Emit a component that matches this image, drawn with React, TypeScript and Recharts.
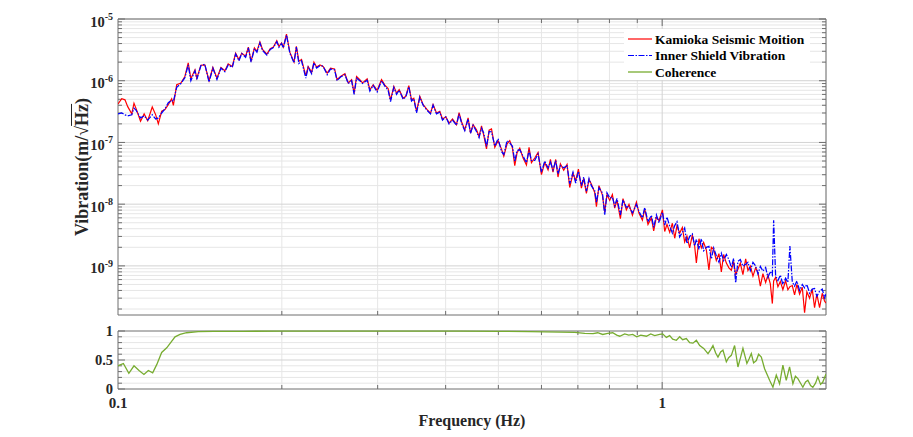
import React from 'react';
import {
  CartesianGrid,
  Line,
  LineChart,
  ReferenceArea,
  ReferenceLine,
  XAxis,
  YAxis,
} from 'recharts';

// ---- spectrum (top panel) ----
const freqHz = [
  0.1000, 0.1016, 0.1030, 0.1042, 0.1060, 0.1070, 0.1080, 0.1100, 0.1117, 0.1134,
  0.1156, 0.1173, 0.1186, 0.1203, 0.1220, 0.1237, 0.1255, 0.1264, 0.1282, 0.1305,
  0.1327, 0.1346, 0.1361, 0.1385, 0.1396, 0.1420, 0.1444, 0.1470, 0.1494, 0.1520,
  0.1546, 0.1572, 0.1594, 0.1622, 0.1645, 0.1668, 0.1688, 0.1716, 0.1736, 0.1756,
  0.1781, 0.1800, 0.1823, 0.1843, 0.1878, 0.1904, 0.1930, 0.1958, 0.1976, 0.1998,
  0.2013, 0.2040, 0.2069, 0.2106, 0.2127, 0.2150, 0.2174, 0.2214, 0.2236, 0.2269,
  0.2291, 0.2317, 0.2350, 0.2382, 0.2423, 0.2458, 0.2500, 0.2527, 0.2564, 0.2612,
  0.2649, 0.2687, 0.2716, 0.2744, 0.2782, 0.2814, 0.2870, 0.2903, 0.2944, 0.2994,
  0.3050, 0.3093, 0.3136, 0.3168, 0.3213, 0.3250, 0.3286, 0.3342, 0.3380, 0.3423,
  0.3462, 0.3496, 0.3537, 0.3586, 0.3637, 0.3699, 0.3752, 0.3793, 0.3848, 0.3902,
  0.3947, 0.4003, 0.4058, 0.4118, 0.4188, 0.4234, 0.4283, 0.4338, 0.4399, 0.4444,
  0.4493, 0.4558, 0.4608, 0.4656, 0.4701, 0.4755, 0.4808, 0.4857, 0.4925, 0.4994,
  0.5067, 0.5116, 0.5188, 0.5247, 0.5307, 0.5359, 0.5411, 0.5474, 0.5551, 0.5631,
  0.5693, 0.5751, 0.5832, 0.5914, 0.6000, 0.6084, 0.6170, 0.6232, 0.6300, 0.6373,
  0.6435, 0.6501, 0.6592, 0.6686, 0.6762, 0.6857, 0.6935, 0.7016, 0.7105, 0.7174,
  0.7257, 0.7338, 0.7413, 0.7516, 0.7571, 0.7653, 0.7765, 0.7841, 0.7917, 0.8009,
  0.8100, 0.8180, 0.8260, 0.8379, 0.8472, 0.8594, 0.8690, 0.8817, 0.8967, 0.9067,
  0.9197, 0.9288, 0.9417, 0.9554, 0.9647, 0.9759, 0.9866, 1.0010, 1.0107, 1.0205,
  1.0323, 1.0441, 1.0544, 1.0647, 1.0767, 1.0891, 1.0997, 1.1104, 1.1233, 1.1360,
  1.1473, 1.1556, 1.1684, 1.1803, 1.1918, 1.2056, 1.2187, 1.2313, 1.2433, 1.2574,
  1.2714, 1.2844, 1.2969, 1.3119, 1.3264, 1.3399, 1.3529, 1.3646, 1.3778, 1.3918,
  1.4073, 1.4236, 1.4374, 1.4521, 1.4683, 1.4850, 1.4997, 1.5150, 1.5315, 1.5492,
  1.5643, 1.5802, 1.5938, 1.6026, 1.6160, 1.6319, 1.6485, 1.6664, 1.6857, 1.7021,
  1.7166, 1.7341, 1.7510, 1.7684, 1.7884, 1.8091, 1.8267, 1.8445, 1.8658, 1.8870,
  1.9055, 1.9240, 1.9463, 1.9684, 1.9876, 2.0000,
];

const kamiokaSeismic = [
  4.2e-7, 5.1e-7, 4.9e-7, 3.8e-7, 2.9e-7, 4.3e-7, 3.5e-7, 2.2e-7, 2.9e-7, 2.25e-7,
  3.75e-7, 2.8e-7, 2.0e-7, 3.2e-7, 3.4e-7, 4.1e-7, 5.1e-7, 4.0e-7, 8.6e-7, 9.2e-7,
  1.17e-6, 1.94e-6, 1.08e-6, 1.5e-6, 1.1e-6, 1.78e-6, 1.8e-6, 1.0e-6, 1.64e-6, 1.1e-6,
  1.64e-6, 1.45e-6, 1.87e-6, 1.7e-6, 2.8e-6, 2.2e-6, 2.8e-6, 2.5e-6, 3.5e-6, 2.06e-6,
  3.4e-6, 3.0e-6, 4.25e-6, 3.2e-6, 2.7e-6, 3.3e-6, 3.5e-6, 4.45e-6, 3.6e-6, 4.1e-6,
  3.5e-6, 5.7e-6, 2.9e-6, 2.0e-6, 3.6e-6, 2.06e-6, 2.2e-6, 1.2e-6, 1.7e-6, 1.37e-6,
  2.0e-6, 1.67e-6, 1.8e-6, 1.7e-6, 1.33e-6, 1.6e-6, 1.55e-6, 1.04e-6, 1.17e-6, 1.3e-6,
  9.2e-7, 1.04e-6, 6.3e-7, 1.17e-6, 1.04e-6, 9.2e-7, 1.07e-6, 7.15e-7, 8.6e-7, 7.0e-7,
  1.04e-6, 8.5e-7, 7.5e-7, 4.9e-7, 8.1e-7, 6.3e-7, 7.15e-7, 5.2e-7, 5.6e-7, 8.3e-7,
  4.9e-7, 5.2e-7, 3.2e-7, 5.6e-7, 4.1e-7, 3.4e-7, 2.97e-7, 4.1e-7, 3.0e-7, 3.2e-7,
  2.4e-7, 2.6e-7, 2.06e-7, 2.4e-7, 1.94e-7, 3.05e-7, 2.1e-7, 1.6e-7, 2.5e-7, 1.42e-7,
  1.94e-7, 1.6e-7, 1.25e-7, 1.86e-7, 1.29e-7, 7.85e-8, 1.58e-7, 1.66e-7, 8.3e-8, 1.07e-7,
  7.8e-8, 6.0e-8, 9.5e-8, 1.07e-7, 8.1e-8, 4.2e-8, 6.8e-8, 8.1e-8, 5.6e-8, 4.3e-8,
  8.3e-8, 4.7e-8, 5.6e-8, 6.9e-8, 3.0e-8, 4.7e-8, 3.6e-8, 5.3e-8, 3.3e-8, 5.3e-8,
  2.75e-8, 4.5e-8, 3.55e-8, 4.4e-8, 1.86e-8, 3.16e-8, 2.4e-8, 3.7e-8, 1.82e-8, 2.6e-8,
  1.5e-8, 2.5e-8, 2.1e-8, 1.55e-8, 9.1e-9, 2.0e-8, 1.4e-8, 7.5e-9, 1.43e-8, 1.15e-8,
  1.43e-8, 8.6e-9, 1.16e-8, 5.8e-9, 1.23e-8, 8.1e-9, 9.9e-9, 6.6e-9, 1.08e-8, 7.1e-9,
  5.5e-9, 8.4e-9, 4.7e-9, 6.0e-9, 3.7e-9, 6.2e-9, 5.4e-9, 8.1e-9, 3.6e-9, 4.7e-9,
  3.5e-9, 4.9e-9, 2.8e-9, 4.5e-9, 3.4e-9, 4.2e-9, 2.45e-9, 3.05e-9, 1.95e-9, 3.16e-9,
  2.1e-9, 1.12e-9, 2.75e-9, 1.95e-9, 2.4e-9, 1.8e-9, 8.6e-10, 2.0e-9, 1.86e-9, 1.22e-9,
  1.58e-9, 8.0e-10, 1.53e-9, 1.11e-9, 9.3e-10, 8.5e-10, 1.17e-9, 7.2e-10, 8.8e-10, 1.11e-9,
  7.2e-10, 1.3e-9, 8.4e-10, 9.9e-10, 6.8e-10, 9.3e-10, 7.8e-10, 4.7e-10, 7.5e-10, 5.4e-10,
  7.1e-10, 5.1e-10, 2.45e-10, 5.7e-10, 6.5e-10, 4.6e-10, 5.6e-10, 4.1e-10, 5.75e-10, 4.1e-10,
  4.6e-10, 4.8e-10, 3.4e-10, 5.0e-10, 3.5e-10, 4.5e-10, 1.74e-10, 3.8e-10, 3.0e-10, 4.2e-10,
  2.1e-10, 3.5e-10, 2.1e-10, 3.6e-10, 2.7e-10, 2.5e-10,
];

const innerShield = [
  2.9e-7, 3.0e-7, 2.8e-7, 2.7e-7, 2.8e-7, 3.6e-7, 3.3e-7, 2.5e-7, 2.7e-7, 2.3e-7,
  2.8e-7, 2.4e-7, 2.5e-7, 3.0e-7, 3.5e-7, 4.4e-7, 4.8e-7, 4.6e-7, 7.8e-7, 9.0e-7,
  1.12e-6, 1.8e-6, 1.0e-6, 1.45e-6, 1.05e-6, 1.75e-6, 1.85e-6, 9.5e-7, 1.6e-6, 1.05e-6,
  1.6e-6, 1.4e-6, 1.8e-6, 1.65e-6, 2.7e-6, 2.1e-6, 2.75e-6, 2.4e-6, 3.4e-6, 2.0e-6,
  3.3e-6, 2.9e-6, 4.1e-6, 3.1e-6, 2.6e-6, 3.2e-6, 3.45e-6, 4.3e-6, 3.5e-6, 4.0e-6,
  3.4e-6, 5.5e-6, 2.8e-6, 1.95e-6, 3.5e-6, 1.9e-6, 2.1e-6, 1.1e-6, 1.65e-6, 1.3e-6,
  1.95e-6, 1.6e-6, 1.75e-6, 1.72e-6, 1.25e-6, 1.55e-6, 1.5e-6, 1.0e-6, 1.15e-6, 1.25e-6,
  9.0e-7, 1.0e-6, 6.0e-7, 1.1e-6, 1.0e-6, 9.0e-7, 1.02e-6, 6.8e-7, 8.4e-7, 6.6e-7,
  1.0e-6, 8.2e-7, 7.0e-7, 4.6e-7, 7.8e-7, 6.0e-7, 7.0e-7, 5.0e-7, 5.5e-7, 8.0e-7,
  4.7e-7, 5.1e-7, 3.0e-7, 5.4e-7, 4.0e-7, 3.3e-7, 2.9e-7, 4.0e-7, 2.9e-7, 3.1e-7,
  2.3e-7, 2.6e-7, 2.0e-7, 2.3e-7, 1.9e-7, 2.9e-7, 2.0e-7, 1.55e-7, 2.4e-7, 1.4e-7,
  1.9e-7, 1.5e-7, 1.2e-7, 1.7e-7, 1.41e-7, 8.6e-8, 1.51e-7, 1.48e-7, 8.7e-8, 1.15e-7,
  7.1e-8, 6.4e-8, 1.07e-7, 9.8e-8, 8.7e-8, 4.9e-8, 7.4e-8, 7.6e-8, 6.0e-8, 4.7e-8,
  7.4e-8, 5.1e-8, 5.1e-8, 6.5e-8, 3.3e-8, 5.0e-8, 3.85e-8, 4.8e-8, 3.6e-8, 5.1e-8,
  3.1e-8, 4.2e-8, 3.9e-8, 4.2e-8, 2.14e-8, 3.3e-8, 2.2e-8, 3.4e-8, 2.0e-8, 2.75e-8,
  1.62e-8, 2.6e-8, 1.97e-8, 1.66e-8, 1.07e-8, 1.84e-8, 1.53e-8, 6.7e-9, 1.53e-8, 1.26e-8,
  1.3e-8, 9.4e-9, 1.24e-8, 6.7e-9, 1.17e-8, 8.9e-9, 9.2e-9, 7.2e-9, 9.9e-9, 7.6e-9,
  6.0e-9, 8.8e-9, 5.2e-9, 6.6e-9, 4.2e-9, 6.7e-9, 5.0e-9, 7.4e-9, 4.6e-9, 6.2e-9,
  4.4e-9, 3.4e-9, 4.5e-9, 5.2e-9, 2.95e-9, 3.5e-9, 4.1e-9, 2.3e-9, 3.0e-9, 3.3e-9,
  2.1e-9, 2.7e-9, 1.86e-9, 2.75e-9, 1.76e-9, 2.0e-9, 2.07e-9, 1.29e-9, 1.95e-9, 1.46e-9,
  1.15e-9, 1.6e-9, 1.22e-9, 1.53e-9, 1.26e-9, 9.5e-10, 1.32e-9, 5.3e-10, 1.19e-9, 1.27e-9,
  9.9e-10, 1.06e-9, 1.14e-9, 8.4e-10, 1.14e-9, 1.0e-9, 7.4e-10, 9.8e-10, 8.2e-10, 9.4e-10,
  6.5e-10, 8.1e-10, 7.1e-10, 5.5e-9, 6.9e-10, 5.8e-10, 7.1e-10, 5.0e-10, 6.3e-10, 5.4e-10,
  2.1e-9, 5.5e-10, 4.7e-10, 5.7e-10, 4.0e-10, 5.0e-10, 4.4e-10, 5.0e-10, 3.6e-10, 4.2e-10,
  4.3e-10, 3.2e-10, 3.9e-10, 4.2e-10, 3.05e-10, 3.5e-10,
];

// ---- coherence (bottom panel) ----
const cohFreqHz = [
  0.1000, 0.1023, 0.1047, 0.1070, 0.1093, 0.1116, 0.1137, 0.1158, 0.1178, 0.1203,
  0.1229, 0.1273, 0.1300, 0.1337, 0.1404, 0.1500, 0.1700, 0.2000, 0.2500, 0.3000,
  0.3500, 0.4248, 0.5030, 0.5710, 0.6084, 0.6501, 0.6908, 0.7206, 0.7464, 0.7612,
  0.7775, 0.7942, 0.8112, 0.8250, 0.8355, 0.8533, 0.8680, 0.8828, 0.8979, 0.9133,
  0.9354, 0.9526, 0.9688, 0.9895, 1.0021, 1.0178, 1.0322, 1.0454, 1.0619, 1.0768,
  1.0904, 1.1076, 1.1233, 1.1390, 1.1556, 1.1720, 1.1920, 1.2139, 1.2278, 1.2397,
  1.2540, 1.2662, 1.2806, 1.2932, 1.3119, 1.3246, 1.3399, 1.3586, 1.3778, 1.3937,
  1.4073, 1.4311, 1.4447, 1.4581, 1.4723, 1.4893, 1.5038, 1.5212, 1.5424, 1.5588,
  1.5754, 1.5977, 1.6206, 1.6435, 1.6665, 1.6904, 1.7143, 1.7386, 1.7571, 1.7758,
  1.7959, 1.8134, 1.8344, 1.8522, 1.8736, 1.8918, 1.9133, 1.9321, 1.9543, 1.9733,
  2.0000,
];

const coherence = [
  0.40, 0.44, 0.27, 0.40, 0.32, 0.25, 0.32, 0.28, 0.42, 0.63,
  0.71, 0.90, 0.94, 0.97, 0.99, 0.993, 0.995, 0.997, 0.998, 0.998,
  0.997, 0.998, 0.995, 0.99, 0.985, 0.98, 0.975, 0.96, 0.955, 0.97,
  0.94, 0.96, 0.97, 0.93, 0.91, 0.95, 0.93, 0.94, 0.90, 0.93,
  0.91, 0.95, 0.92, 0.94, 0.95, 0.89, 0.92, 0.86, 0.84, 0.90,
  0.85, 0.87, 0.80, 0.79, 0.84, 0.75, 0.70, 0.61, 0.68, 0.75,
  0.62, 0.55, 0.64, 0.67, 0.47, 0.54, 0.58, 0.75, 0.38, 0.55,
  0.70, 0.44, 0.52, 0.61, 0.45, 0.49, 0.60, 0.55, 0.35, 0.25,
  0.15, 0.03, 0.24, 0.09, 0.41, 0.15, 0.38, 0.09, 0.22, 0.18,
  0.10, 0.03, 0.12, 0.15, 0.06, 0.03, 0.10, 0.21, 0.08, 0.12,
  0.26,
];

// ---- axes ----
const freqTicks = [0.1, 1];
const freqMinor = [0.2, 0.3, 0.4, 0.5, 0.6, 0.7, 0.8, 0.9, 2];
const vibTicks = [1e-9, 1e-8, 1e-7, 1e-6, 1e-5];
const vibMinor = [-10, -9, -8, -7, -6].flatMap((e) =>
  [2, 3, 4, 5, 6, 7, 8, 9].map((m) => m * Math.pow(10, e)),
);
const cohTicks = [0, 0.5, 1];
const cohMinor = [0.1, 0.2, 0.3, 0.4, 0.6, 0.7, 0.8, 0.9];

const F_MIN = 0.1;
const F_MAX = 2;
const V_MIN = 1.6e-10;
const V_MAX = 1e-5;

const FONT = "'Liberation Serif', 'Times New Roman', serif";
const INK = '#262626';
const BOX = '#6e6e6e';
const GRID_MINOR = '#e6e6e6';
const GRID_MAJOR = '#d3d3d3';
const BLUE_DASH = '6 1.5 1.5 1.5';

const spectrum = freqHz.map((f, i) => ({ f, kamioka: kamiokaSeismic[i], shield: innerShield[i] }));
const coh = cohFreqHz.map((f, i) => ({ f, c: coherence[i] }));

// tick length helpers (pixels -> axis units)
const kx = (px: number) => Math.pow(10, px / 544.5);
const kyLog = (px: number) => Math.pow(10, px / 61.67);

function PowTick(props: any) {
  const { x, y, payload } = props;
  const exp = Math.round(Math.log10(payload.value));
  return (
    <text x={x - 5} y={y + 7.5} textAnchor="end" fontFamily={FONT} fontWeight="bold" fontSize={14.5} fill={INK}>
      10
      <tspan dy={-6.5} fontSize={10}>
        {exp}
      </tspan>
    </text>
  );
}

function CohTick(props: any) {
  const { x, y, payload } = props;
  return (
    <text x={x - 5} y={y + 5} textAnchor="end" fontFamily={FONT} fontWeight="bold" fontSize={14.5} fill={INK}>
      {payload.value}
    </text>
  );
}

function FreqTick(props: any) {
  const { x, y, payload } = props;
  return (
    <text x={x} y={y + 19} textAnchor="middle" fontFamily={FONT} fontWeight="bold" fontSize={15} fill={INK}>
      {payload.value}
    </text>
  );
}

function topTicks() {
  const out: React.ReactNode[] = [];
  const yMarks = [...vibTicks.map((v) => [v, 7]), ...vibMinor.map((v) => [v, 4])];
  yMarks.forEach(([v, len], i) => {
    out.push(
      <ReferenceLine key={'tl' + i} segment={[{ x: F_MIN, y: v }, { x: F_MIN * kx(len), y: v }]} stroke={BOX} />,
      <ReferenceLine key={'tr' + i} segment={[{ x: F_MAX / kx(len), y: v }, { x: F_MAX, y: v }]} stroke={BOX} />,
    );
  });
  const xMarks = [[1, 7], ...freqMinor.slice(0, -1).map((f) => [f, 4])];
  xMarks.forEach(([f, len], i) => {
    out.push(
      <ReferenceLine key={'tb' + i} segment={[{ x: f, y: V_MIN }, { x: f, y: V_MIN * kyLog(len) }]} stroke={BOX} />,
      <ReferenceLine key={'tt' + i} segment={[{ x: f, y: V_MAX / kyLog(len) }, { x: f, y: V_MAX }]} stroke={BOX} />,
    );
  });
  return out;
}

function bottomTicks() {
  const out: React.ReactNode[] = [];
  const yMarks = [...cohTicks.map((v) => [v, 7]), ...cohMinor.map((v) => [v, 4])];
  yMarks.forEach(([v, len], i) => {
    out.push(
      <ReferenceLine key={'bl' + i} segment={[{ x: F_MIN, y: v }, { x: F_MIN * kx(len), y: v }]} stroke={BOX} />,
      <ReferenceLine key={'br' + i} segment={[{ x: F_MAX / kx(len), y: v }, { x: F_MAX, y: v }]} stroke={BOX} />,
    );
  });
  const xMarks = [[1, 7], ...freqMinor.slice(0, -1).map((f) => [f, 4])];
  xMarks.forEach(([f, len], i) => {
    out.push(
      <ReferenceLine key={'bb' + i} segment={[{ x: f, y: 0 }, { x: f, y: len / 58 }]} stroke={BOX} />,
      <ReferenceLine key={'bt' + i} segment={[{ x: f, y: 1 - len / 58 }, { x: f, y: 1 }]} stroke={BOX} />,
    );
  });
  return out;
}

const legendRows = [
  { label: 'Kamioka Seismic Moition', color: '#ff0000', dash: undefined as string | undefined },
  { label: 'Inner Shield Vibration', color: '#0000ff', dash: BLUE_DASH },
  { label: 'Coherence', color: '#77ac30', dash: undefined as string | undefined },
];

export default function App() {
  return (
    <div style={{ position: 'absolute', left: 0, top: 0, width: 913, height: 437, background: '#fff', fontFamily: FONT }}>
      <div style={{ position: 'absolute', left: 0, top: 0 }}>
        <LineChart width={913} height={330} data={spectrum} margin={{ top: 19, right: 87, bottom: 15, left: 78 }}>
          <CartesianGrid horizontalValues={vibMinor} verticalValues={freqMinor} stroke={GRID_MINOR} />
          <CartesianGrid horizontalValues={vibTicks} verticalValues={[1]} stroke={GRID_MAJOR} />
          <XAxis dataKey="f" type="number" scale="log" domain={[F_MIN, F_MAX]} allowDataOverflow hide />
          <YAxis
            type="number"
            scale="log"
            domain={[V_MIN, V_MAX]}
            allowDataOverflow
            ticks={vibTicks}
            interval={0}
            width={40}
            axisLine={false}
            tickLine={false}
            tickSize={0}
            tickMargin={0}
            tick={(p: any) => <PowTick {...p} />}
          />
          {topTicks()}
          <ReferenceArea x1={F_MIN} x2={F_MAX} y1={V_MIN} y2={V_MAX} fill="none" fillOpacity={0} stroke={BOX} />
          <Line dataKey="kamioka" stroke="#ff0000" strokeWidth={1.2} dot={false} isAnimationActive={false} />
          <Line
            dataKey="shield"
            stroke="#0000ff"
            strokeWidth={1.25}
            strokeDasharray={BLUE_DASH}
            dot={false}
            isAnimationActive={false}
          />
        </LineChart>
      </div>

      <div style={{ position: 'absolute', left: 0, top: 318 }}>
        <LineChart width={913} height={119} data={coh} margin={{ top: 13, right: 87, bottom: 0, left: 78 }}>
          <CartesianGrid horizontalValues={cohMinor} verticalValues={freqMinor} stroke={GRID_MINOR} />
          <CartesianGrid horizontalValues={[0.5]} verticalValues={[1]} stroke={GRID_MAJOR} />
          <XAxis
            dataKey="f"
            type="number"
            scale="log"
            domain={[F_MIN, F_MAX]}
            allowDataOverflow
            ticks={freqTicks}
            interval={0}
            height={48}
            axisLine={false}
            tickLine={false}
            tickSize={0}
            tickMargin={0}
            tick={(p: any) => <FreqTick {...p} />}
          />
          <YAxis
            type="number"
            domain={[0, 1]}
            ticks={cohTicks}
            interval={0}
            width={40}
            axisLine={false}
            tickLine={false}
            tickSize={0}
            tickMargin={0}
            tick={(p: any) => <CohTick {...p} />}
          />
          {bottomTicks()}
          <ReferenceArea x1={F_MIN} x2={F_MAX} y1={0} y2={1} fill="none" fillOpacity={0} stroke={BOX} />
          <Line dataKey="c" stroke="#77ac30" strokeWidth={1.3} dot={false} isAnimationActive={false} />
        </LineChart>
      </div>

      {/* y-axis title */}
      <div style={{ position: 'absolute', left: 82, top: 167, width: 0, height: 0 }}>
        <div
          style={{
            position: 'absolute',
            left: 0,
            top: 0,
            transform: 'translate(-50%, -50%) rotate(-90deg)',
            whiteSpace: 'nowrap',
            fontWeight: 'bold',
            fontSize: 18,
            color: INK,
            lineHeight: '20px',
          }}
        >
          Vibration(m/√<span style={{ textDecoration: 'overline' }}>Hz</span>)
        </div>
      </div>

      {/* x-axis title + legend */}
      <svg width={913} height={437} style={{ position: 'absolute', left: 0, top: 0, pointerEvents: 'none' }}>
        <text x={472} y={426} textAnchor="middle" fontFamily={FONT} fontWeight="bold" fontSize={16} fill={INK}>
          Frequency (Hz)
        </text>
        <rect x={624} y={29} width={186} height={51} fill="#fff" />
        {legendRows.map((r, i) => (
          <g key={r.label}>
            <line
              x1={628}
              x2={652}
              y1={39 + i * 16.5}
              y2={39 + i * 16.5}
              stroke={r.color}
              strokeWidth={r.label === 'Coherence' ? 1.3 : 1.2}
              strokeDasharray={r.dash}
            />
            <text x={655} y={43.5 + i * 16.5} fontFamily={FONT} fontWeight="bold" fontSize={13.5} fill="#000">
              {r.label}
            </text>
          </g>
        ))}
      </svg>
    </div>
  );
}
